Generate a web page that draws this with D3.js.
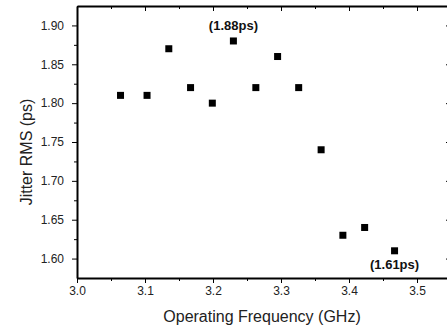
<!DOCTYPE html>
<html>
<head>
<meta charset="utf-8">
<script src="https://cdn.jsdelivr.net/npm/d3@7"></script>
<style>
  body { margin: 0; background: #fff; }
  svg { display: block; }
  .axis text { font-family: Arial, "Liberation Sans", sans-serif; font-size: 12px; fill: #222; }
  .axis path, .axis line { stroke: #000; }
</style>
</head>
<body>
<script>
// Data
const freqs  = [3.064, 3.103, 3.135, 3.167, 3.199, 3.230, 3.263, 3.295, 3.326, 3.359, 3.391, 3.423, 3.467];
const jitter = [1.81, 1.81, 1.87, 1.82, 1.80, 1.88, 1.82, 1.86, 1.82, 1.74, 1.63, 1.64, 1.61];
const xTicks = [3.0, 3.1, 3.2, 3.3, 3.4, 3.5];
const xMinor = [3.05, 3.15, 3.25, 3.35, 3.45];
const yTicks = [1.60, 1.65, 1.70, 1.75, 1.80, 1.85, 1.90];
const yMinor = [1.625, 1.675, 1.725, 1.775, 1.825, 1.875];
const notes = [
  {freq: 3.230, val: 1.88, text: "(1.88ps)", dy: -11},
  {freq: 3.467, val: 1.61, text: "(1.61ps)", dy: 18}
];

const canvWidth = 447, canvHeight = 333;
const svg = d3.select("body").append("svg")
    .attr("width", canvWidth)
    .attr("height", canvHeight);

// plot frame
const frame = {left: 77, right: 451, top: 6, bottom: 278};

const xScale = d3.scaleLinear().domain([3.0, 3.55]).range([frame.left, frame.right]);
const yScale = d3.scaleLinear().domain([1.575, 1.925]).range([frame.bottom, frame.top]);

// bottom axis, major + minor ticks pointing out
svg.append("g").attr("class", "axis")
    .attr("transform", "translate(0," + frame.bottom + ")")
    .call(d3.axisBottom(xScale).tickValues(xTicks).tickSize(5).tickSizeOuter(0)
        .tickPadding(3).tickFormat(d3.format(".1f")))
    .call(g => g.select(".domain").attr("stroke-width", 2));
svg.append("g").attr("class", "axis")
    .attr("transform", "translate(0," + frame.bottom + ")")
    .call(d3.axisBottom(xScale).tickValues(xMinor).tickSize(3).tickFormat(""))
    .call(g => g.select(".domain").remove());

// top axis, ticks pointing in
svg.append("g").attr("class", "axis")
    .attr("transform", "translate(0," + frame.top + ")")
    .call(d3.axisTop(xScale).tickValues(xTicks).tickSize(-5).tickSizeOuter(0).tickFormat(""))
    .call(g => g.select(".domain").attr("stroke-width", 2));
svg.append("g").attr("class", "axis")
    .attr("transform", "translate(0," + frame.top + ")")
    .call(d3.axisTop(xScale).tickValues(xMinor).tickSize(-3).tickFormat(""))
    .call(g => g.select(".domain").remove());

// left axis
svg.append("g").attr("class", "axis")
    .attr("transform", "translate(" + frame.left + ",0)")
    .call(d3.axisLeft(yScale).tickValues(yTicks).tickSize(5).tickSizeOuter(0)
        .tickPadding(8).tickFormat(d3.format(".2f")))
    .call(g => g.select(".domain").attr("stroke-width", 2));
svg.append("g").attr("class", "axis")
    .attr("transform", "translate(" + frame.left + ",0)")
    .call(d3.axisLeft(yScale).tickValues(yMinor).tickSize(3).tickFormat(""))
    .call(g => g.select(".domain").remove());

// right axis, ticks pointing in
svg.append("g").attr("class", "axis")
    .attr("transform", "translate(" + frame.right + ",0)")
    .call(d3.axisRight(yScale).tickValues(yTicks).tickSize(-5).tickSizeOuter(0).tickFormat(""))
    .call(g => g.select(".domain").attr("stroke-width", 2));

// square markers
const size = 7;
svg.append("g").selectAll("rect")
    .data(freqs)
    .enter().append("rect")
    .attr("x", d => xScale(d) - size / 2)
    .attr("y", (d, i) => yScale(jitter[i]) - size / 2)
    .attr("width", size)
    .attr("height", size)
    .attr("fill", "#000");

// annotations
svg.append("g").selectAll("text")
    .data(notes)
    .enter().append("text")
    .attr("x", d => xScale(d.freq))
    .attr("y", d => yScale(d.val) + d.dy)
    .attr("text-anchor", "middle")
    .attr("font-family", "Arial, 'Liberation Sans', sans-serif")
    .attr("font-weight", "bold")
    .attr("font-size", "13px")
    .attr("fill", "#111")
    .text(d => d.text);

// axis titles
svg.append("text")
    .attr("x", (frame.left + frame.right) / 2 - 2)
    .attr("y", 322)
    .attr("text-anchor", "middle")
    .attr("font-family", "Arial, 'Liberation Sans', sans-serif")
    .attr("font-size", "16px")
    .attr("fill", "#222")
    .text("Operating Frequency (GHz)");

svg.append("text")
    .attr("transform", "translate(32," + 152 + ") rotate(-90)")
    .attr("text-anchor", "middle")
    .attr("font-family", "Arial, 'Liberation Sans', sans-serif")
    .attr("font-size", "16px")
    .attr("fill", "#222")
    .text("Jitter RMS (ps)");
</script>
</body>
</html>
